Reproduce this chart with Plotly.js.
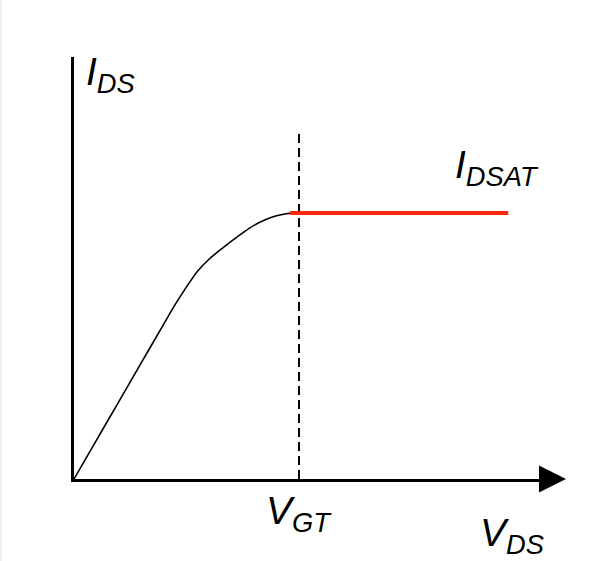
<!DOCTYPE html>
<html>
<head>
<meta charset="utf-8">
<script src="https://cdn.plot.ly/plotly-3.0.1.min.js"></script>
<style>
  html, body { margin: 0; padding: 0; background: #ffffff; }
  #strip { position: absolute; left: 0; top: 0; width: 2px; height: 561px; background: #eaf4fb; }
  #chart { position: absolute; left: 0; top: 0; width: 592px; height: 561px; }
</style>
</head>
<body>
<div id="chart"></div>
<div id="strip"></div>
<script>
// Drain current I_DS vs drain-source voltage V_DS (normalised units: V_GT = 1, I_DSAT = 1)
const vds = [0, 0.10, 0.20, 0.30, 0.40, 0.45, 0.50, 0.55, 0.60, 0.65, 0.70, 0.75, 0.80, 0.85, 0.90, 0.95, 1.0];
const ids = [0, 0.146, 0.292, 0.438, 0.584, 0.656, 0.722, 0.782, 0.826, 0.861, 0.894, 0.925, 0.953, 0.974, 0.989, 0.998, 1.0];
const satV = [0.96, 1.93];
const satI = [1.0, 1.0];
const vgt = 1.0;
const vgtLineTop = 1.305;

const FONT = "Liberation Sans, Arial, sans-serif";

const traces = [
  {
    x: vds, y: ids, mode: "lines", type: "scatter",
    line: { color: "#000000", width: 1.6, shape: "spline", smoothing: 1.0 },
    hoverinfo: "skip", showlegend: false
  },
  {
    x: [vgt, vgt], y: [0, vgtLineTop], mode: "lines", type: "scatter",
    line: { color: "#000000", width: 2, dash: "9px,5px" },
    hoverinfo: "skip", showlegend: false
  },
  {
    x: satV, y: satI, mode: "lines", type: "scatter",
    line: { color: "#f8280c", width: 4 },
    hoverinfo: "skip", showlegend: false
  }
];

const labelFont = { family: FONT, size: 39, color: "#000000" };

const layout = {
  width: 592, height: 561,
  margin: { l: 74, r: 52, t: 57, b: 82 },
  paper_bgcolor: "#ffffff", plot_bgcolor: "#ffffff",
  showlegend: false,
  xaxis: {
    range: [0, 2.071], showgrid: false, zeroline: false, showticklabels: false, ticks: "",
    showline: true, linecolor: "#000000", linewidth: 3, fixedrange: true
  },
  yaxis: {
    range: [0, 1.586], showgrid: false, zeroline: false, showticklabels: false, ticks: "",
    showline: true, linecolor: "#000000", linewidth: 3.3, fixedrange: true
  },
  shapes: [
    {
      type: "path", xref: "paper", yref: "paper",
      xsizemode: "pixel", ysizemode: "pixel", xanchor: 1, yanchor: 0,
      path: "M -1 -13.5 L 26 0 L -1 13.5 Z",
      fillcolor: "#000000", line: { width: 0 }
    }
  ],
  annotations: [
    { text: "<i>I<sub>DS</sub></i>", x: 0.161, y: 1.022, xref: "x", yref: "paper",
      xanchor: "center", yanchor: "top", showarrow: false, font: labelFont },
    { text: "<i>I<sub>DSAT</sub></i>", x: 1.878, y: 0.800, xref: "x", yref: "paper",
      xanchor: "center", yanchor: "top", showarrow: false, font: labelFont },
    { text: "<i>V<sub>GT</sub></i>", x: vgt, y: -0.02, xref: "x", yref: "paper",
      xanchor: "center", yanchor: "top", showarrow: false, font: labelFont },
    { text: "<i>V<sub>DS</sub></i>", x: 1.947, y: -0.07, xref: "x", yref: "paper",
      xanchor: "center", yanchor: "top", showarrow: false, font: labelFont }
  ]
};

Plotly.newPlot("chart", traces, layout, { staticPlot: true, displayModeBar: false });
</script>
</body>
</html>
